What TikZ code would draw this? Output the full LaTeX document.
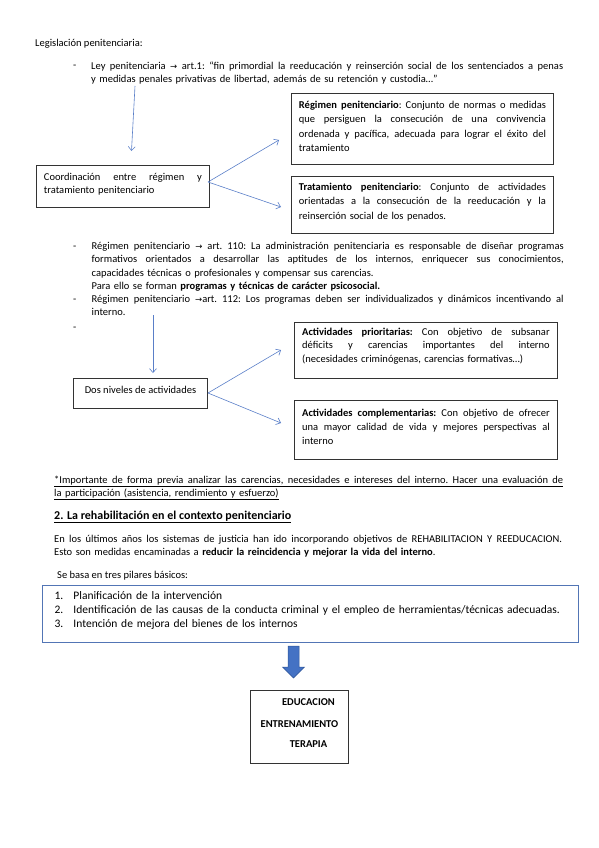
\documentclass[tikz,border=0pt]{standalone}
\usepackage{fontspec}
\setmainfont{Carlito}
\newfontfamily\djv{DejaVu Sans}
\usetikzlibrary{arrows.meta}
\definecolor{connc}{HTML}{5A7FC8}
\definecolor{boxc}{HTML}{333333}
\definecolor{listc}{HTML}{5275B5}
\definecolor{blockc}{HTML}{4472C4}
\definecolor{blockd}{HTML}{2F5597}
\ExplSyntaxOn
\seq_new:N \l_rs_words_seq
\NewDocumentCommand \jl { m m }
  {
    \leavevmode
    \seq_set_split:Nnn \l_rs_words_seq { ~ } { #2 }
    \hbox_to_wd:nn { #1 } { \seq_use:Nn \l_rs_words_seq { \hfill } }
  }
\ExplSyntaxOff
\newcommand\ar{{\djv\fontsize{8.5}{10}\selectfont →}}
\newcommand\hs[1]{\rule{0pt}{#1}}
\newcommand\ds[1]{\rule[-#1]{0pt}{#1}}
\begin{document}
\begin{tikzpicture}[x=1pt,y=-1pt,
  every node/.style={inner sep=0pt, text=black},
  body/.style={font=\fontsize{10.5}{13.4}\selectfont},
  para/.style={body, anchor=north west, align=left, text width=#1},
  tbox/.style={draw=boxc, line width=0.9pt, anchor=north west, align=left, inner ysep=0pt},
  connline/.style={draw=connc, line width=0.6pt, -{Straight Barb[length=4pt,width=7pt]}}]
\useasboundingbox (0,0) rectangle (599,848);

% ---- header and first bullet
\node[body, anchor=base west] (leg) at (35,47) {Legislación penitenciaria:};
\node[body, anchor=base west] (d1) at (73,69) {-};
\node[para=472pt] (b1) at (91,59) {\hs{10pt}\jl{472pt}{Ley penitenciaria \ar{} art.1: “fin primordial la reeducación y reinserción social de los sentenciados a penas}\\y medidas penales privativas de libertad, además de su retención y custodia…”};

% ---- first group of boxes
\node[tbox, text width=158pt, inner xsep=7.5pt, font=\fontsize{10.5}{13}\selectfont] (coord) at (36,165)
  {\hs{15pt}\jl{158pt}{Coordinación entre régimen y}\\tratamiento penitenciario\ds{14pt}};
\node[tbox, text width=247pt, inner xsep=7.5pt, font=\fontsize{10.5}{14.3}\selectfont] (reg) at (291,93)
  {\hs{15pt}\jl{247pt}{\textbf{Régimen} \textbf{penitenciario}: Conjunto de normas o medidas}\\
   \hs{10pt}\jl{247pt}{que persiguen la consecución de una convivencia}\\
   \hs{10pt}\jl{247pt}{ordenada y pacífica, adecuada para lograr el éxito del}\\
   tratamiento\ds{13pt}};
\node[tbox, text width=247pt, inner xsep=7.5pt, font=\fontsize{10.5}{14.3}\selectfont] (trat) at (291,176)
  {\hs{14pt}\jl{247pt}{\textbf{Tratamiento} \textbf{penitenciario}: Conjunto de actividades}\\
   \hs{10pt}\jl{247pt}{orientadas a la consecución de la reeducación y la}\\
   reinserción social de los penados.\ds{14.4pt}};

\coordinate (a1s) at (135,86);
\coordinate (a1e) at (131.5,151);
\coordinate (f1s) at (208,182);
\coordinate (f1a) at (279,140);
\coordinate (f1b) at (281,207);
\draw[connline] (a1s) -- (a1e);
\draw[connline] (f1s) -- (f1a);
\draw[connline] (f1s) -- (f1b);

% ---- bullets 2 and 3
\node[body, anchor=base west] (d2) at (73,249) {-};
\node[para=472pt] (b2) at (91.5,239) {\hs{10pt}\jl{472pt}{Régimen penitenciario \ar{} art. 110: La administración penitenciaria es responsable de diseñar programas}\\
  \hs{10pt}\jl{472pt}{formativos orientados a desarrollar las aptitudes de los internos, enriquecer sus conocimientos,}\\
  capacidades técnicas o profesionales y compensar sus carencias.\\
  Para ello se forman \textbf{programas y técnicas de carácter psicosocial.}};
\node[body, anchor=base west] (d3) at (73,302) {-};
\node[para=472pt] (b3) at (91.5,292) {\hs{10pt}\jl{472pt}{Régimen penitenciario \ar{}art. 112: Los programas deben ser individualizados y dinámicos incentivando al}\\interno.};
\node[body, anchor=base west] (d4) at (73,330) {-};

% ---- second group of boxes
\node[tbox, minimum width=134pt, inner xsep=0pt, font=\fontsize{10.5}{13}\selectfont] (dos) at (73,378)
  {\hs{15pt}Dos niveles de actividades\ds{15pt}};
\node[tbox, text width=247.5pt, inner xsep=7.75pt, font=\fontsize{10.5}{13.5}\selectfont] (prio) at (294,322)
  {\hs{13pt}\jl{247.5pt}{\textbf{Actividades} \textbf{prioritarias:} Con objetivo de subsanar}\\
   \hs{10pt}\jl{247.5pt}{déficits y carencias importantes del interno}\\
   (necesidades criminógenas, carencias formativas…)\ds{16pt}};
\node[tbox, text width=247.5pt, inner xsep=7.75pt, font=\fontsize{10.5}{14}\selectfont] (comp) at (294,400)
  {\hs{16pt}\jl{247.5pt}{\textbf{Actividades} \textbf{complementarias:} Con objetivo de ofrecer}\\
   \hs{10pt}\jl{247.5pt}{una mayor calidad de vida y mejores perspectivas al}\\
   interno\ds{15pt}};

\coordinate (a2s) at (153,315);
\coordinate (a2e) at (153,373);
\coordinate (f2s) at (208,393);
\coordinate (f2a) at (281,350);
\coordinate (f2b) at (281,423);
\draw[connline] (a2s) -- (a2e);
\draw[connline] (f2s) -- (f2a);
\draw[connline] (f2s) -- (f2b);

% ---- lower text
\node[para=509pt] (imp) at (54,473) {\hs{10pt}\underline{\jl{509pt}{*Importante de forma previa analizar las carencias, necesidades e intereses del interno. Hacer una evaluación de}}\\
  \underline{la participación (asistencia, rendimiento y esfuerzo)}};
\node[anchor=base west, font=\fontsize{12}{14}\selectfont\bfseries] (head) at (54,519)
  {\underline{2. La rehabilitación en el contexto penitenciario}};
\node[para=508pt] (enlos) at (54,532) {\hs{10pt}\jl{508pt}{En los últimos años los sistemas de justicia han ido incorporando objetivos de REHABILITACION Y REEDUCACION.}\\
  Esto son medidas encaminadas a \textbf{reducir la reincidencia y mejorar la vida del interno}.};
\node[body, anchor=base west] (sebasa) at (57,578) {Se basa en tres pilares básicos:};

\node[draw=listc, line width=1pt, anchor=north west, align=left, text width=512pt, inner xsep=12pt, inner ysep=0pt,
  font=\fontsize{11.5}{14}\selectfont] (list) at (42,585)
  {\hs{14pt}\makebox[19pt][l]{1.}Planificación de la intervención\\
   \makebox[19pt][l]{2.}Identificación de las causas de la conducta criminal y el empleo de herramientas/técnicas adecuadas.\\
   \makebox[19pt][l]{3.}Intención de mejora del bienes de los internos\ds{15pt}};

% ---- block arrow
\filldraw[fill=blockc, draw=blockd, line width=0.5pt] (288,646) -- (299,646) -- (299,667) -- (304.5,667)
  -- (293.5,678) -- (282.5,667) -- (288,667) -- cycle;

\node[tbox, text width=98pt, inner xsep=0pt, align=center, font=\fontsize{10.5}{12}\selectfont\bfseries] (edu) at (250,690)
  {\hs{15pt}\hspace*{18pt}EDUCACION\\[10pt]ENTRENAMIENTO\\[8pt]\hspace*{18pt}TERAPIA\ds{16pt}};
\end{tikzpicture}
\end{document}
